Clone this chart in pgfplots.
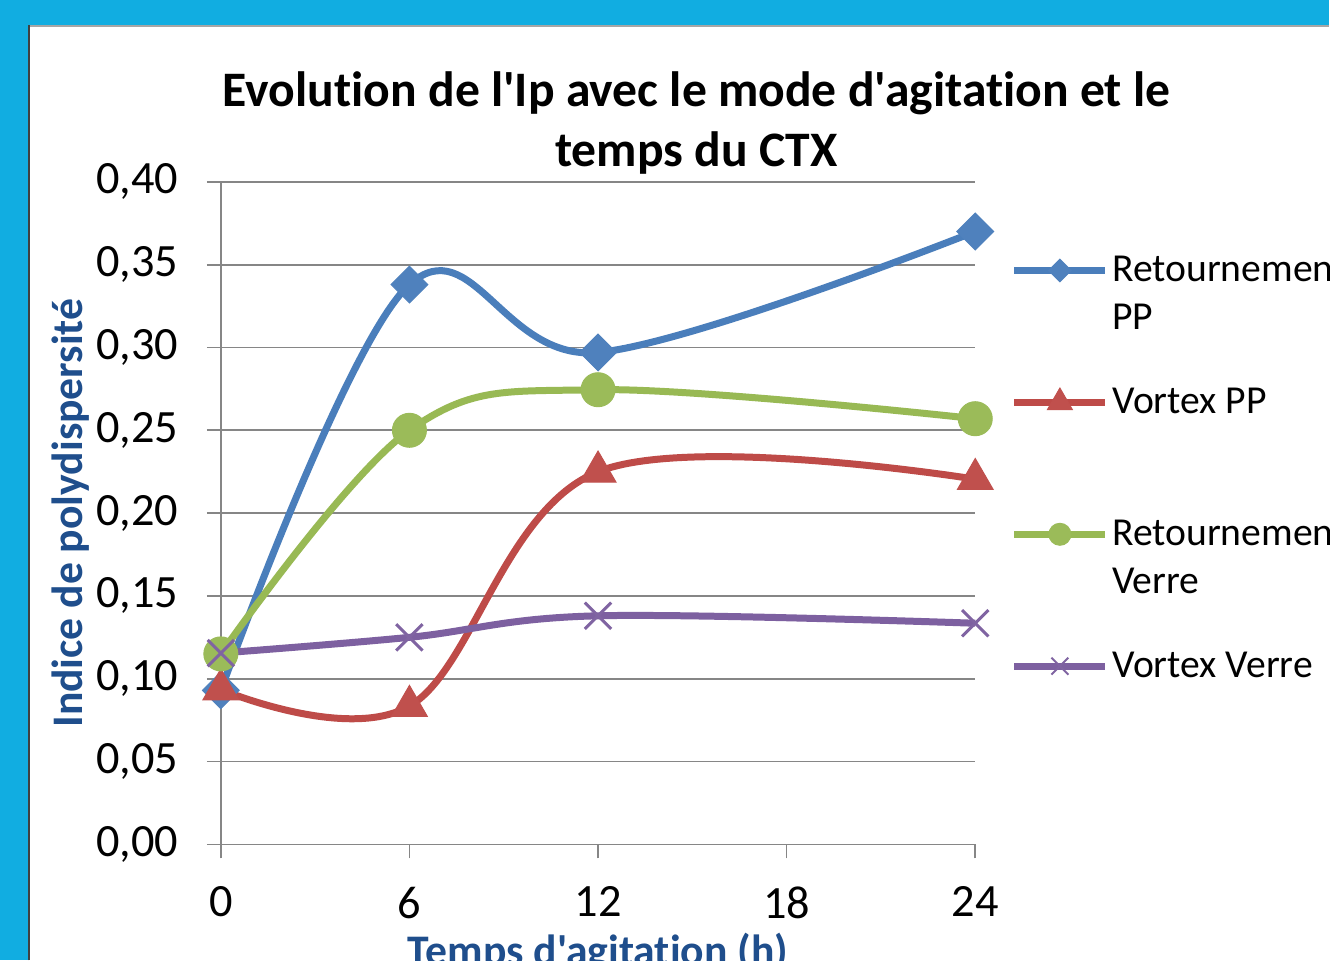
\documentclass[border=0pt]{standalone}
\usepackage{pgfplots}
\pgfplotsset{compat=1.18}
\usepackage{fontspec}
\setmainfont{Carlito}[Ligatures={TeXOff,NoCommon}]
\definecolor{bgblue}{RGB}{17,173,225}
\definecolor{gridgray}{RGB}{134,134,134}
\definecolor{labblue}{RGB}{31,78,140}
\definecolor{c1line}{RGB}{74,126,187}
\definecolor{c1mark}{RGB}{79,129,189}
\definecolor{c2line}{RGB}{190,75,72}
\definecolor{c2mark}{RGB}{192,80,77}
\definecolor{c3line}{RGB}{152,185,84}
\definecolor{c3mark}{RGB}{155,187,89}
\definecolor{c4line}{RGB}{125,96,160}
\definecolor{c4mark}{RGB}{128,100,162}
\pgfplotsset{
  s1/.style={color=c1line, line width=2.1pt, mark=square*, mark options={solid, rotate=45, fill=c1mark, draw=c1mark, line width=0.3pt}},
  s2/.style={color=c2line, line width=2.1pt, mark=triangle*, mark options={solid, fill=c2mark, draw=c2mark, line width=0.3pt}},
  s3/.style={color=c3line, line width=2.1pt, mark=*, mark options={solid, fill=c3mark, draw=c3mark, line width=0.3pt}},
  s4/.style={color=c4line, line width=2.1pt, mark=x, mark options={solid, draw=c4mark, line width=0.9pt}},
}
\begin{document}
\begin{tikzpicture}
\fill[bgblue] (-66.3pt,-34.8pt) rectangle (332.7pt,253.5pt);
\fill[white] (-57.9pt,-34.8pt) rectangle (332.7pt,246pt);
\draw[line width=0.6pt, color=gray!70] (-57.6pt,245.7pt) -- (332.7pt,245.7pt);
\draw[line width=0.7pt, color=black!75] (-57.6pt,-34.8pt) -- (-57.6pt,246pt);
\begin{scope}
\clip (-66.3pt,-34.8pt) rectangle (332.7pt,253.5pt);
\begin{axis}[
  at={(0pt,0pt)}, anchor=south west,
  width=226.5pt, height=198.9pt, scale only axis,
  xmin=0, xmax=24, ymin=0, ymax=0.4,
  xtick={0,6,12,18,24}, ytick={0,0.05,0.1,0.15,0.2,0.25,0.3,0.35,0.4},
  axis lines*=left,
  axis line style={color=gridgray, line width=0.5pt},
  ymajorgrids, grid style={color=gridgray, line width=0.5pt},
  tick align=outside, major tick length=4.2pt,
  tick style={color=gridgray, line width=0.5pt},
  clip=false,
  /pgf/number format/assume math mode=true,
  ticklabel style={font=\fontsize{13.9}{16}\selectfont},
  yticklabel style={xshift=-5pt, /pgf/number format/.cd, fixed, fixed zerofill, precision=2, use comma},
  xticklabel style={yshift=-5pt},
  title={Evolution de l'Ip avec le mode d'agitation et le\\temps du CTX},
  title style={at={(axis description cs:0.6305,1)}, anchor=south, align=center, inner sep=0pt, yshift=-3.8pt,
    font=\fontsize{14.9}{18}\selectfont\bfseries},
  ylabel={Indice de polydispersité},
  ylabel style={at={(axis description cs:-0.199,0.5)}, anchor=center, inner sep=0pt,
    font=\fontsize{13.1}{15}\selectfont\bfseries, color=labblue},
  xlabel={Temps d'agitation (h)},
  xlabel style={at={(axis description cs:0.5,0)}, anchor=base, inner sep=0pt, yshift=-36.5pt,
    font=\fontsize{13.1}{15}\selectfont\bfseries, color=labblue},
  legend cell align=left,
  legend style={at={(axis description cs:1.0464,0.9668)}, anchor=north west, draw=none, fill=none,
    inner sep=0pt, row sep=0pt, column sep=1pt,
    font=\fontsize{11.9}{14.4}\selectfont,
    nodes={inner sep=0pt, text height=23.1pt, text depth=16.5pt}},
  legend image code/.code={\draw[mark repeat=2, mark phase=2, #1] plot coordinates {(0pt,0pt) (13.65pt,0pt) (27.3pt,0pt)};},
]
\addplot[s1, smooth, tension=0.6, mark size=3.9pt, forget plot] coordinates {(0,0.093) (6,0.338) (12,0.297) (24,0.370)};
\addplot[s2, smooth, tension=0.6, mark size=6.2pt, forget plot] coordinates {(0,0.0935) (6,0.0835) (12,0.225) (24,0.2205)};
\addplot[s3, smooth, tension=0.6, mark size=5.1pt, forget plot] coordinates {(0,0.115) (6,0.250) (12,0.2745) (24,0.257)};
\addplot[s4, smooth, tension=0.6, mark size=5.6pt, forget plot] coordinates {(0,0.1155) (6,0.125) (12,0.138) (24,0.1335)};
\addlegendimage{s1, mark size=2.4pt}
\addlegendentry{\parbox[t]{6cm}{Retournement\\PP}}
\addlegendimage{s2, mark size=4.3pt}
\addlegendentry{Vortex PP}
\addlegendimage{s3, mark size=3.3pt}
\addlegendentry{\parbox[t]{6cm}{Retournement\\Verre}}
\addlegendimage{s4, mark size=3.6pt, mark options={solid, draw=c4mark, line width=0.6pt}}
\addlegendentry{Vortex Verre}
\end{axis}
\end{scope}
\useasboundingbox (-66.3pt,-34.8pt) rectangle (332.7pt,253.5pt);
\end{tikzpicture}
\end{document}
